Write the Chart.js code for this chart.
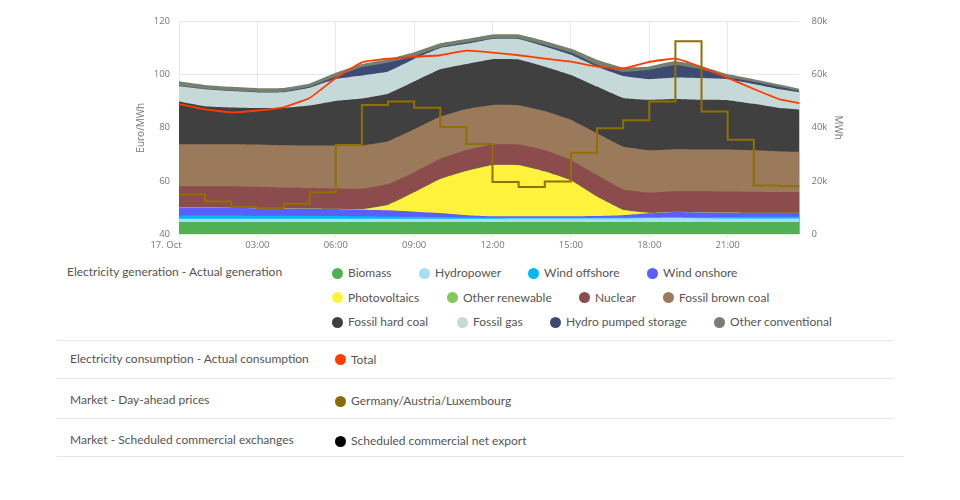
<!DOCTYPE html>
<html><head><meta charset="utf-8">
<script src="https://cdn.jsdelivr.net/npm/chart.js@4/dist/chart.umd.min.js"></script>
<style>
html,body{margin:0;padding:0;background:#fff;width:960px;height:500px;overflow:hidden}
#wrap{position:absolute;left:0;top:0;width:960px;height:250px}
.t{position:absolute;font:12px Lato,sans-serif;color:#555;white-space:nowrap;line-height:16px}
.d{position:absolute;width:11px;height:11px;border-radius:50%}
.h{position:absolute;height:1px;background:#e6e6e6}
</style></head><body>
<div id="wrap"><canvas id="c" width="960" height="250"></canvas></div>
<div id="legend"></div>
<script>
const hours=[0,1,2,3,4,5,6,7,8,9,10,11,12,13,14,15,16,17,18,19,20,21,22,23,23.75];
const biomass=[4.5,4.5,4.5,4.5,4.5,4.5,4.5,4.5,4.5,4.5,4.5,4.5,4.5,4.5,4.5,4.5,4.5,4.5,4.5,4.5,4.5,4.5,4.5,4.5,4.5];
const hydropower=[1.2,1.2,1.2,1.2,1.2,1.2,1.2,1.2,1.2,1.2,1.2,1.2,1.2,1.3,1.3,1.3,1.3,1.3,1.5,1.6,1.4,1.3,1.3,1.3,1.3];
const windOffshore=[1.3,1.3,1.3,1.2,1.2,1.2,1.1,1.0,0.9,0.8,0.7,0.6,0.5,0.4,0.4,0.4,0.4,0.5,0.4,0.3,0.5,0.6,0.7,0.7,0.7];
const windOnshore=[3.0,3.0,2.9,2.8,2.7,2.6,2.6,2.4,2.3,1.9,1.5,0.8,0.5,0.5,0.5,0.5,0.6,0.8,1.4,1.9,1.7,1.6,1.4,1.4,1.4];
const photovoltaics=[0,0,0,0,0,0,0,0.1,2.0,7.2,12.7,16.6,19.2,19.2,16.8,13.4,7.2,1.9,0.1,0,0,0,0,0,0];
const otherRenewable=[0.1,0.1,0.1,0.1,0.1,0.1,0.1,0.1,0.1,0.1,0.1,0.1,0.1,0.1,0.1,0.1,0.1,0.1,0.1,0.1,0.1,0.1,0.1,0.1,0.1];
const nuclear=[7.9,7.9,8.0,8.0,7.8,7.7,7.6,7.7,7.8,7.5,7.6,7.8,7.7,7.7,8.0,7.7,8.1,7.7,7.6,7.7,7.9,7.9,7.9,7.8,7.8];
const brownCoal=[15.8,15.8,15.8,15.9,15.9,16,16.2,16.3,16.1,16.2,15.9,15.5,14.9,14.8,14.7,15.1,15.7,16.1,15.9,15.8,15.7,15.8,15.6,15.3,15.2];
const hardCoal=[16.1,14.3,13.8,13.7,14.1,15.1,16.8,17.7,17.9,18,17.8,16.9,17.2,17.2,16.7,16.9,17.6,18.3,19,18.9,18.7,18.6,17.5,16.3,15.8];
const fossilGas=[5.7,6.4,6.2,5.9,5.9,6.7,8.3,8.7,8.4,8.5,8,7.6,7.6,7.7,7.6,7.6,7.5,8.3,7.8,8.1,8.2,7.9,7.5,7.1,6.6];
const pumpedStorage=[0.2,0.2,0.2,0.2,0.2,0.3,0.9,3.1,3.3,0.9,0.3,0.5,0.2,0.2,0.6,0.8,0.7,1.5,3.5,4.7,3.3,0.7,0.8,0.8,0.4];
const otherConventional=[1.7,1.4,1.4,1.4,1.4,1.3,1.4,1.2,1.3,1.6,1.5,1.3,1.5,1.5,1.5,1.5,1.9,1.7,1.3,1.5,1.2,1.2,1.0,1.0,0.9];
const totalConsumption=[48.9,46.9,45.8,46.5,47.7,51.2,58.7,64.6,66,66.7,67.3,69,68.3,67.3,66,64.9,63,62.3,64.8,66,62.8,58.8,54.6,50.7,49.2];
const dayAheadPrice=[54.9,52.2,50.2,49.7,51.4,55.7,73.5,88.6,89.9,87.5,80.3,73.9,59.6,57.7,59.8,70.6,79.8,82.8,89.9,112.6,86.1,75.5,58.3,58,58];
const leftTicks=[40,60,80,100,120];
const rightTicks=[0,20,40,60,80];
const timeLabels={0:"",3:"03:00",6:"06:00",9:"09:00",12:"12:00",15:"15:00",18:"18:00",21:"21:00"};
const dateLabel="17. Oct";

const areaSeries=[
 ["Biomass",biomass,"#50b154"],["Hydropower",hydropower,"#a5ddfb"],["Wind offshore",windOffshore,"#00b8f3"],
 ["Wind onshore",windOnshore,"#5a5ffb"],["Photovoltaics",photovoltaics,"#fff23c"],["Other renewable",otherRenewable,"#80c95a"],
 ["Nuclear",nuclear,"#8c4b4d"],["Fossil brown coal",brownCoal,"#9a7a5b"],["Fossil hard coal",hardCoal,"#404040"],
 ["Fossil gas",fossilGas,"#c6d9d9"],["Hydro pumped storage",pumpedStorage,"#3d4b72"],["Other conventional",otherConventional,"#75806f"]];
const pts=a=>a.map((v,i)=>({x:hours[i],y:v*1000}));
const datasets=[
 {label:"Germany/Austria/Luxembourg",data:hours.map((h,i)=>({x:h,y:dayAheadPrice[i]})),yAxisID:"y",borderColor:"#8f7000",backgroundColor:"#8f7000",borderWidth:2,stepped:"before",fill:false,pointRadius:0,order:0},
 {label:"Total",data:pts(totalConsumption),yAxisID:"y2",stack:"cons",borderColor:"#ff3c00",backgroundColor:"#ff3c00",borderWidth:1.8,fill:false,pointRadius:0,order:1,tension:0.1},
];
areaSeries.forEach(([n,d,c],i)=>datasets.push({label:n,data:pts(d),yAxisID:"y2",stack:"gen",backgroundColor:c,borderColor:c,borderWidth:0,fill:"origin",pointRadius:0,order:2+i,tension:0.1}));

const tickFont={family:'"Open Sans",sans-serif',size:9.5};
const dateTick={id:"dateTick",afterDraw(ch){const s=ch.scales.x,c=ch.ctx;c.save();c.font='9.5px "Open Sans",sans-serif';c.fillStyle="#777";c.textAlign="center";c.textBaseline="middle";c.fillText(dateLabel,s.getPixelForValue(0)-13,245.5);c.restore();}};
Chart.defaults.font.family='"Open Sans",sans-serif';
new Chart(document.getElementById("c"),{type:"line",data:{datasets},plugins:[dateTick],options:{
 responsive:false,animation:false,
 layout:{padding:{left:135,right:116.5,top:21.5,bottom:0}},
 plugins:{legend:{display:false},tooltip:{enabled:false}},
 scales:{
  x:{type:"linear",min:0,max:23.75,grid:{color:"#e8e8e8",tickLength:4},border:{color:"#e8e8e8"},
     afterBuildTicks(s){s.ticks=Object.keys(timeLabels).map(k=>({value:+k}));},
     afterFit(s){s.height=16;},
     ticks:{font:tickFont,color:"#777",padding:2,maxRotation:0,autoSkip:false,callback:v=>timeLabels[v]??""}},
  y:{position:"left",min:40,max:120,grid:{color:"#e8e8e8",drawTicks:false},border:{color:"#e8e8e8"},
     afterBuildTicks(s){s.ticks=leftTicks.map(v=>({value:v}));},
     afterFit(s){s.width=44;},
     title:{display:true,text:"Euro/MWh",color:"#777",font:{size:10},padding:0},
     ticks:{font:tickFont,color:"#777",padding:9}},
  y2:{position:"right",stacked:true,min:0,max:80000,grid:{display:false},border:{display:false},
     afterBuildTicks(s){s.ticks=rightTicks.map(v=>({value:v*1000}));},
     afterFit(s){s.width=44;},
     title:{display:true,text:"MWh",color:"#777",font:{size:10},padding:0},
     ticks:{font:tickFont,color:"#777",padding:4,callback:v=>v===0?"0":(v/1000)+"k"}}
 }}});

const rows=[
 [67,272,"Electricity generation - Actual generation"],
 [70,358.5,"Electricity consumption - Actual consumption"],
 [70,399.5,"Market - Day-ahead prices"],
 [70,439.5,"Market - Scheduled commercial exchanges"]];
const items=[
 [337,273,"#50b154","Biomass"],[424,273,"#a5ddfb","Hydropower"],[533,273,"#00b8f3","Wind offshore"],[652,273,"#5a5ffb","Wind onshore"],
 [337,297.5,"#fff23c","Photovoltaics"],[452,297.5,"#80c95a","Other renewable"],[584,297.5,"#8c4b4d","Nuclear"],[668,297.5,"#9a7a5b","Fossil brown coal"],
 [337,322,"#404040","Fossil hard coal"],[462,322,"#c6d9d9","Fossil gas"],[555,322,"#3d4b72","Hydro pumped storage"],[719,322,"#75806f","Other conventional"],
 [340,359.5,"#ff3c00","Total"],[340,401,"#8a6d00","Germany/Austria/Luxembourg"],[340,441,"#000000","Scheduled commercial net export"]];
const seps=[[57,340,837],[57,378,837],[57,418,837],[57,456,847]];
const L=document.getElementById("legend");
const add=(cls,css,txt)=>{const e=document.createElement("div");e.className=cls;e.style.cssText=css;if(txt)e.textContent=txt;L.appendChild(e);};
rows.forEach(([x,y,t])=>add("t",`left:${x}px;top:${y-8}px`,t));
items.forEach(([x,y,c,t])=>{add("d",`left:${x-5.5}px;top:${y-5.5}px;background:${c}`);add("t",`left:${x+11}px;top:${y-8}px`,t);});
seps.forEach(([x,y,w])=>add("h",`left:${x}px;top:${y}px;width:${w}px`));
</script></body></html>
